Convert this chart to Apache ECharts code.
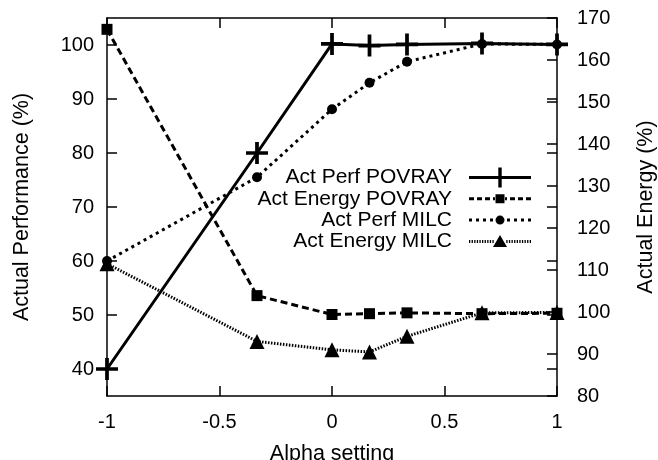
<!DOCTYPE html>
<html>
<head>
<meta charset="utf-8">
<script src="https://cdn.jsdelivr.net/npm/echarts@6/dist/echarts.min.js"></script>
<style>
html,body{margin:0;padding:0;background:#fff;}
#c{width:658px;height:460px;}
</style>
</head>
<body>
<div id="c"></div>
<script>
const alpha = [-1, -1/3, 0, 1/6, 1/3, 2/3, 1];
const perfPovray = [40, 80, 100.2, 99.9, 100.1, 100.3, 100.1];
const energyPovray = [167.3, 103.9, 99.4, 99.6, 99.8, 99.6, 99.7];
const perfMilc = [60, 75.5, 88.1, 93.0, 96.9, 100.2, 100.1];
const energyMilc = [111.5, 93.0, 91.0, 90.5, 94.2, 99.8, 99.9];
const xTicks = [-1, -0.5, 0, 0.5, 1];
const perfTicks = [40, 50, 60, 70, 80, 90, 100];
const energyTicks = [80, 90, 100, 110, 120, 130, 140, 150, 160, 170];
const seriesNames = ['Act Perf POVRAY', 'Act Energy POVRAY', 'Act Perf MILC', 'Act Energy MILC'];

const FONT = 'Liberation Sans';
const pairs = arr => alpha.map((a, i) => [a, arr[i]]);
const plus = 'path://M-1.7,-10H1.7V-1.7H10V1.7H1.7V10H-1.7V1.7H-10V-1.7H-1.7Z';

// legend sample icons (line sample with marker), box 62 x 20
const IW = 62, IH = 20, CY = IH / 2, CX = IW / 2;
function rect(x0, y0, x1, y1) {
  return 'M' + x0 + ',' + y0 + 'H' + x1 + 'V' + y1 + 'H' + x0 + 'Z';
}
function bothSides(half, dash, gap, thick) {
  let s = '';
  for (let x = 0; x < half; x += dash + gap) {
    s += rect(x, CY - thick / 2, Math.min(x + dash, half), CY + thick / 2);
    const xr = IW - x;
    s += rect(Math.max(xr - dash, IW - half), CY - thick / 2, xr, CY + thick / 2);
  }
  return s;
}
const frame = 'M0,0M' + IW + ',' + IH;
const iconPlus = 'path://' + frame + rect(0, CY - 1.5, IW, CY + 1.5) + rect(CX - 1.7, 0, CX + 1.7, IH);
const iconSquare = 'path://' + frame + bothSides(26, 5, 3, 3) + rect(CX - 4.5, CY - 4.5, CX + 4.5, CY + 4.5);
const iconCircle = 'path://' + frame + bothSides(26, 3, 4, 3) +
  'M' + (CX - 4.5) + ',' + CY + 'a4.5,4.5 0 1,0 9,0a4.5,4.5 0 1,0 -9,0Z';
const iconTri = 'path://' + frame + bothSides(25, 1.3, 1.3, 3) +
  'M' + CX + ',' + (CY - 6.5) + 'L' + (CX + 7) + ',' + (CY + 5.5) + 'L' + (CX - 7) + ',' + (CY + 5.5) + 'Z';
const legendIcons = [iconPlus, iconSquare, iconCircle, iconTri];

const chart = echarts.init(document.getElementById('c'), null, {renderer: 'canvas'});
const axisLine = {show: true, onZero: false, lineStyle: {color: '#000', width: 1.5}};
const tick = {show: true, inside: true, length: 10, lineStyle: {color: '#000', width: 1.5}};
const labelStyle = {color: '#000', fontFamily: FONT, fontSize: 20};
const titleStyle = {color: '#000', fontFamily: FONT, fontSize: 21.5};

chart.setOption({
  animation: false,
  backgroundColor: '#fff',
  grid: {left: 107, right: 101, top: 18, bottom: 64, containLabel: false, outerBoundsMode: 'none'},
  legend: {
    orient: 'vertical', align: 'right', right: 122, top: 162,
    itemWidth: IW, itemHeight: IH, itemGap: 0.3,
    textStyle: {color: '#000', fontFamily: FONT, fontSize: 21, padding: [0, 12, 0, 0]},
    data: seriesNames.map((n, i) => ({
      name: n, icon: legendIcons[i],
      itemStyle: {color: '#000', borderWidth: 0}
    }))
  },
  xAxis: [{
    type: 'value', min: -1, max: 1, interval: 0.5,
    name: 'Alpha setting', nameLocation: 'middle', nameGap: 47,
    nameTextStyle: titleStyle,
    axisLine: axisLine, axisTick: Object.assign({}, tick, {customValues: xTicks}),
    axisLabel: Object.assign({}, labelStyle, {margin: 16, customValues: xTicks}),
    splitLine: {show: false}
  }, {
    type: 'value', min: -1, max: 1, interval: 0.5, position: 'top',
    axisLine: axisLine, axisTick: Object.assign({}, tick, {customValues: xTicks}),
    axisLabel: {show: false}, splitLine: {show: false}
  }],
  yAxis: [{
    type: 'value', min: 35, max: 105, position: 'left',
    name: 'Actual Performance (%)', nameLocation: 'middle', nameGap: 74,
    nameTextStyle: titleStyle,
    axisLine: axisLine, axisTick: Object.assign({}, tick, {customValues: perfTicks}),
    axisLabel: Object.assign({}, labelStyle, {margin: 13, customValues: perfTicks}),
    splitLine: {show: false}
  }, {
    type: 'value', min: 80, max: 170, interval: 10, position: 'right',
    name: 'Actual Energy (%)', nameLocation: 'middle', nameGap: 78, nameRotate: 90,
    nameTextStyle: titleStyle,
    axisLine: axisLine, axisTick: Object.assign({}, tick, {customValues: energyTicks}),
    axisLabel: Object.assign({}, labelStyle, {margin: 20, customValues: energyTicks}),
    splitLine: {show: false}
  }, {
    type: 'value', min: 35, max: 105, position: 'right',
    axisLine: {show: false, onZero: false}, axisTick: Object.assign({}, tick, {customValues: perfTicks}),
    axisLabel: {show: false}, splitLine: {show: false}
  }],
  series: [{
    name: seriesNames[0], type: 'line', yAxisIndex: 0, data: pairs(perfPovray),
    symbol: plus, symbolSize: 22, showAllSymbol: true,
    lineStyle: {color: '#000', width: 3, type: 'solid'},
    itemStyle: {color: '#000'}
  }, {
    name: seriesNames[1], type: 'line', yAxisIndex: 1, data: pairs(energyPovray),
    symbol: 'rect', symbolSize: 11, showAllSymbol: true,
    lineStyle: {color: '#000', width: 3, type: [7, 4]},
    itemStyle: {color: '#000'}
  }, {
    name: seriesNames[2], type: 'line', yAxisIndex: 0, data: pairs(perfMilc),
    symbol: 'circle', symbolSize: 10, showAllSymbol: true,
    lineStyle: {color: '#000', width: 3, type: [3, 4]},
    itemStyle: {color: '#000'}
  }, {
    name: seriesNames[3], type: 'line', yAxisIndex: 1, data: pairs(energyMilc),
    symbol: 'triangle', symbolSize: 15, showAllSymbol: true,
    lineStyle: {color: '#000', width: 3, type: [1.5, 1.5]},
    itemStyle: {color: '#000'}
  }]
});
</script>
</body>
</html>
